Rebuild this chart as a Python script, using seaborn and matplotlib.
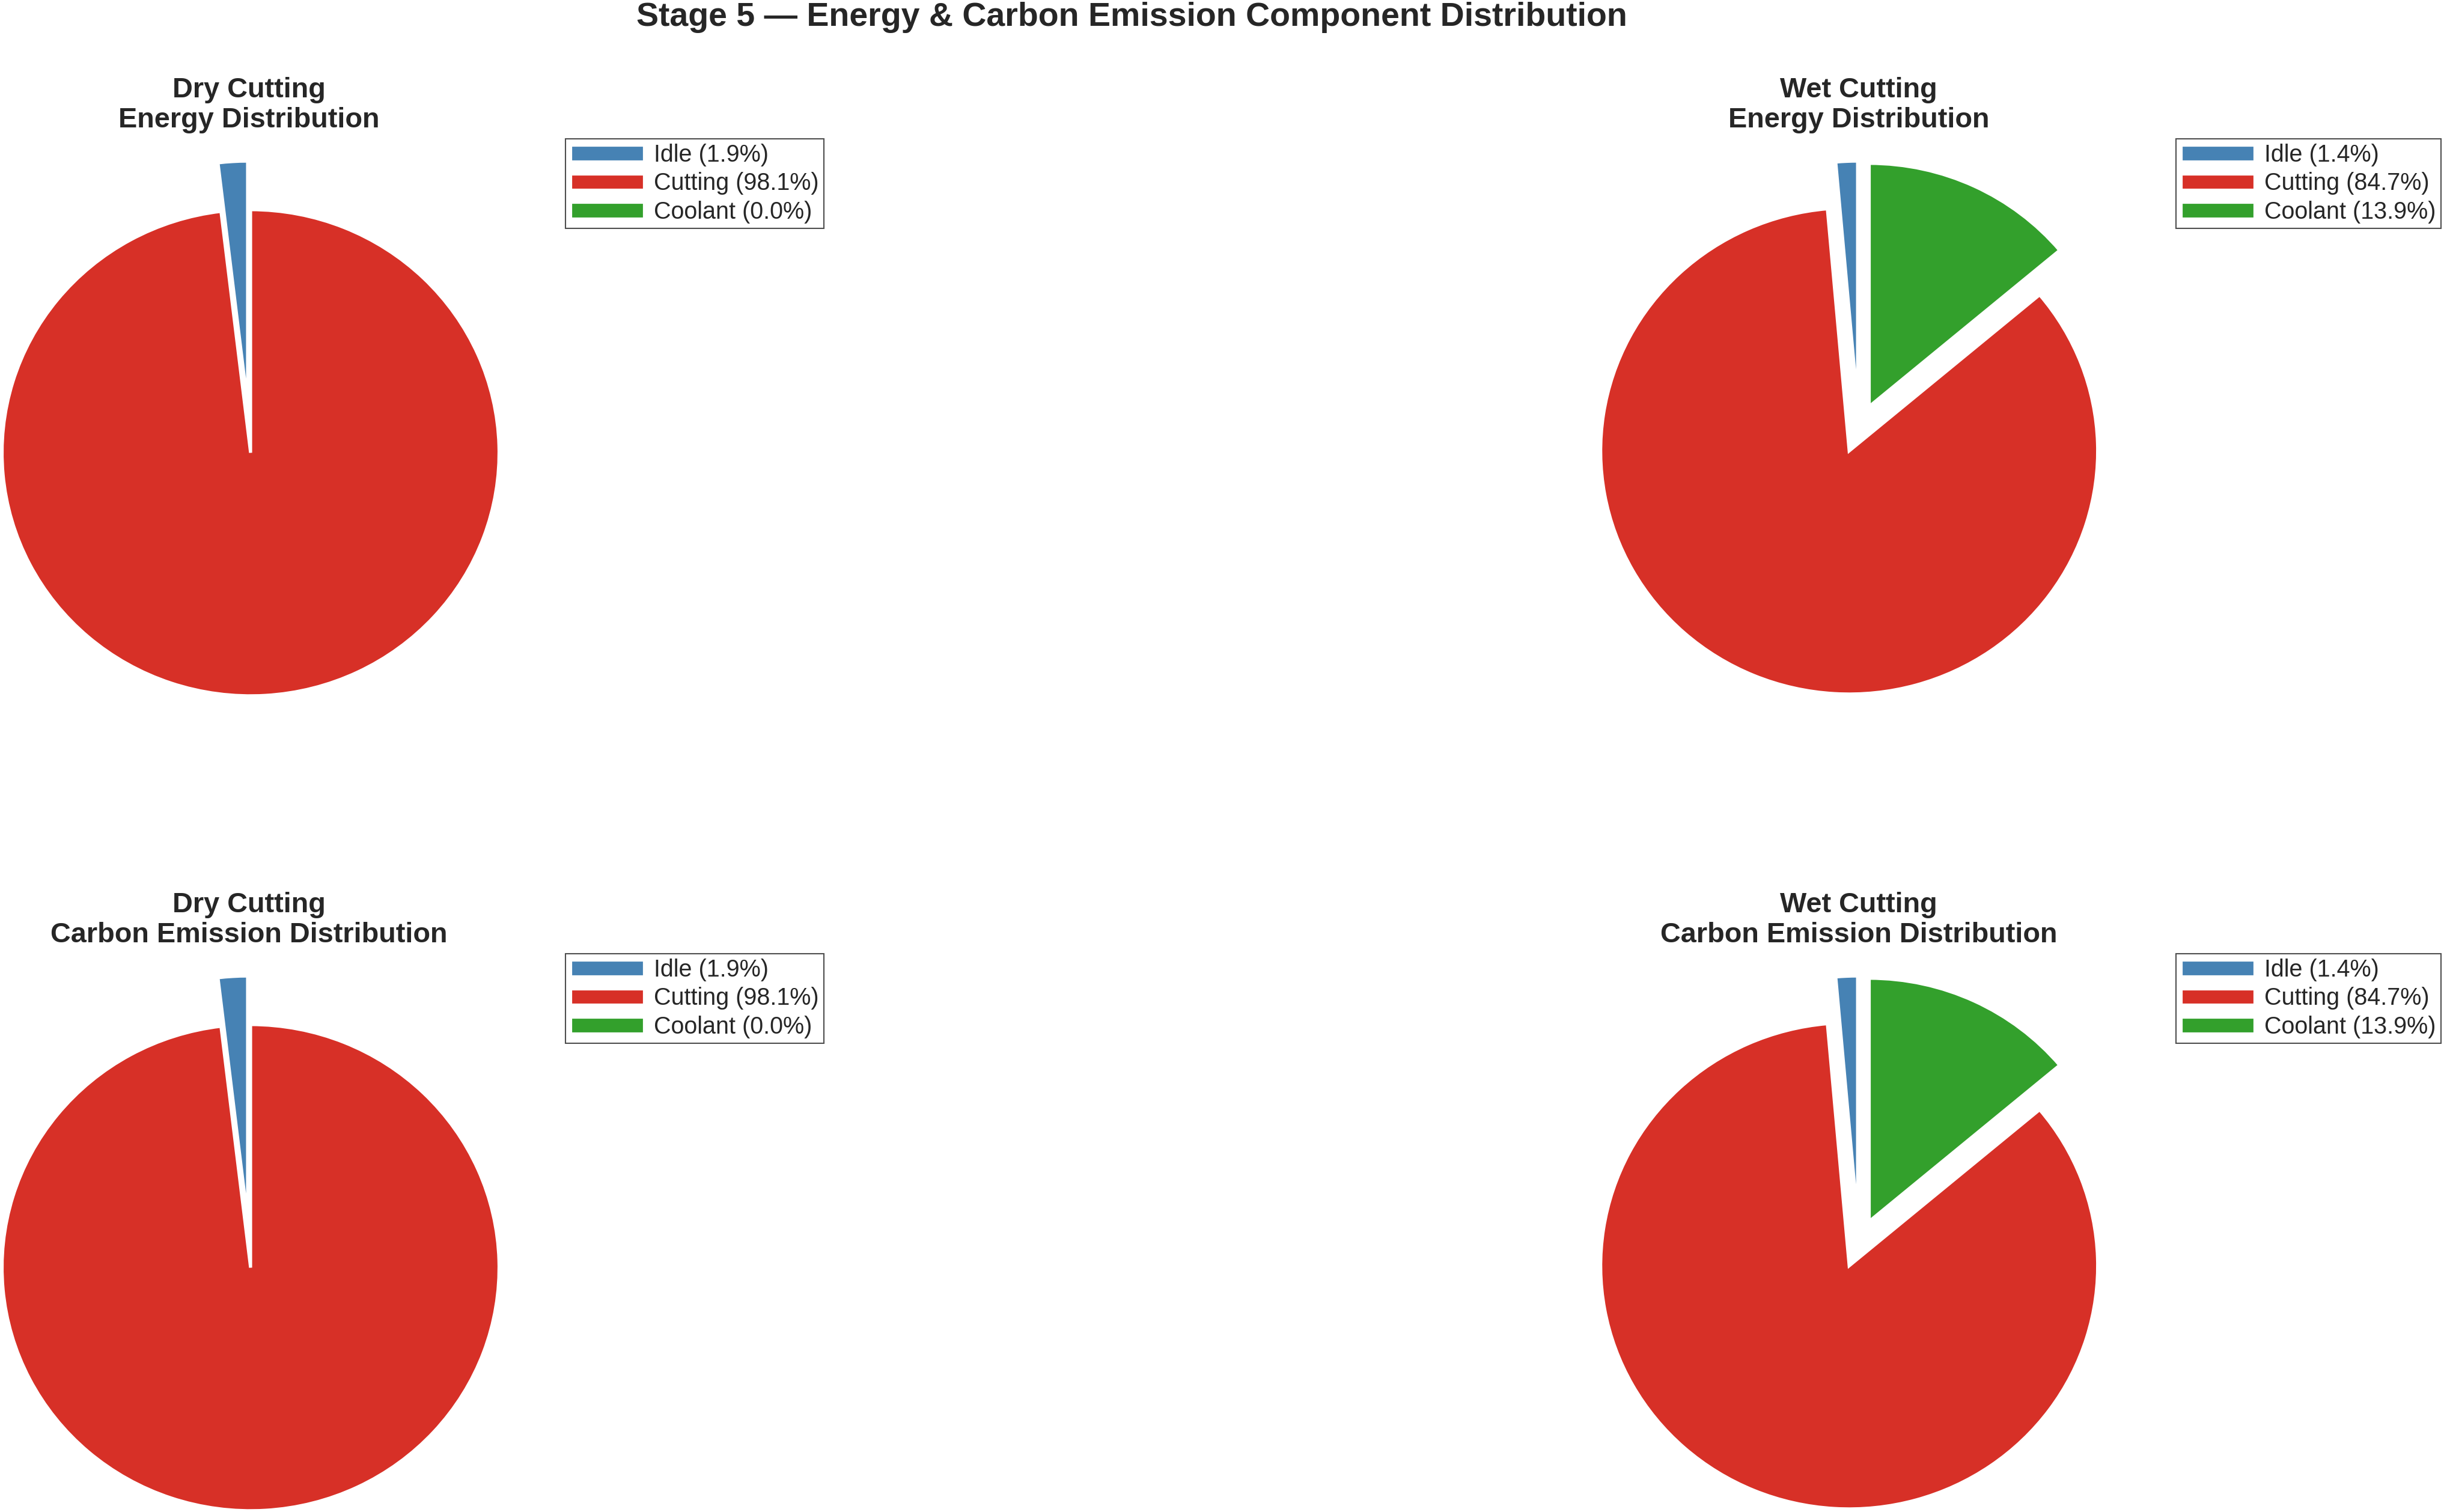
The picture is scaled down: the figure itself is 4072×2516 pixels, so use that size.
import matplotlib
matplotlib.use("Agg")
import matplotlib.pyplot as plt
import seaborn as sns

# Component shares (%)
components = ["Idle", "Cutting", "Coolant"]
dry_energy = [1.9, 98.1, 0.0]
wet_energy = [1.4, 84.7, 13.9]
dry_carbon = [1.9, 98.1, 0.0]
wet_carbon = [1.4, 84.7, 13.9]

colors = ["#4682B4", "#D73027", "#33A02C"]
explode = [0.1, 0.1, 0.1]

sns.set_theme(style="white")
plt.rcParams["font.family"] = ["Liberation Sans", "DejaVu Sans"]
text_color = "#262626"

W, H, DPI = 4072, 2516, 250
fig = plt.figure(figsize=(W / DPI, H / DPI), dpi=DPI)

# title, values, pie centre (px), legend top-left (px)
panels = [
    ("Dry Cutting\nEnergy Distribution", dry_energy, (414.5, 713), (941, 231)),
    ("Wet Cutting\nEnergy Distribution", wet_energy, (3093, 713), (3621, 231)),
    ("Dry Cutting\nCarbon Emission Distribution", dry_carbon, (414.5, 2069), (941, 1587)),
    ("Wet Cutting\nCarbon Emission Distribution", wet_carbon, (3093, 2069), (3621, 1587)),
]
RX, RY = 413.5, 404.5

for title, vals, (cx, cy), (lx, ly) in panels:
    w, h = 2.5 * RX, 2.5 * RY
    ax = fig.add_axes([(cx - w / 2) / W, 1 - (cy + h / 2) / H, w / W, h / H])
    wedges, _ = ax.pie(vals, colors=colors, explode=explode, startangle=90,
                       counterclock=True,
                       wedgeprops=dict(edgecolor="white", linewidth=1.5))
    ax.set_aspect("auto")
    ax.set_xlim(-1.25, 1.25)
    ax.set_ylim(-1.25, 1.25)
    ax.set_title(title, fontsize=13.5, fontweight="bold", color=text_color,
                 y=0.995, pad=0)

    total = sum(vals)
    labels = [f"{c} ({v / total * 100:.1f}%)" for c, v in zip(components, vals)]
    leg = ax.legend(wedges, labels, loc="upper left",
                    bbox_to_anchor=(lx / W, 1 - ly / H), bbox_transform=fig.transFigure,
                    borderaxespad=0, fontsize=11.4, frameon=True, fancybox=False,
                    edgecolor="#222222", handlelength=3.1, handletextpad=0.42,
                    labelspacing=0.24, borderpad=0.2)
    leg.get_frame().set_linewidth(0.6)
    for t in leg.get_texts():
        t.set_color(text_color)

fig.suptitle("Stage 5 — Energy & Carbon Emission Component Distribution",
             x=1883 / W, y=0.999, va="top", fontsize=16, fontweight="bold",
             color=text_color)

fig.savefig("out.png", dpi=DPI)
